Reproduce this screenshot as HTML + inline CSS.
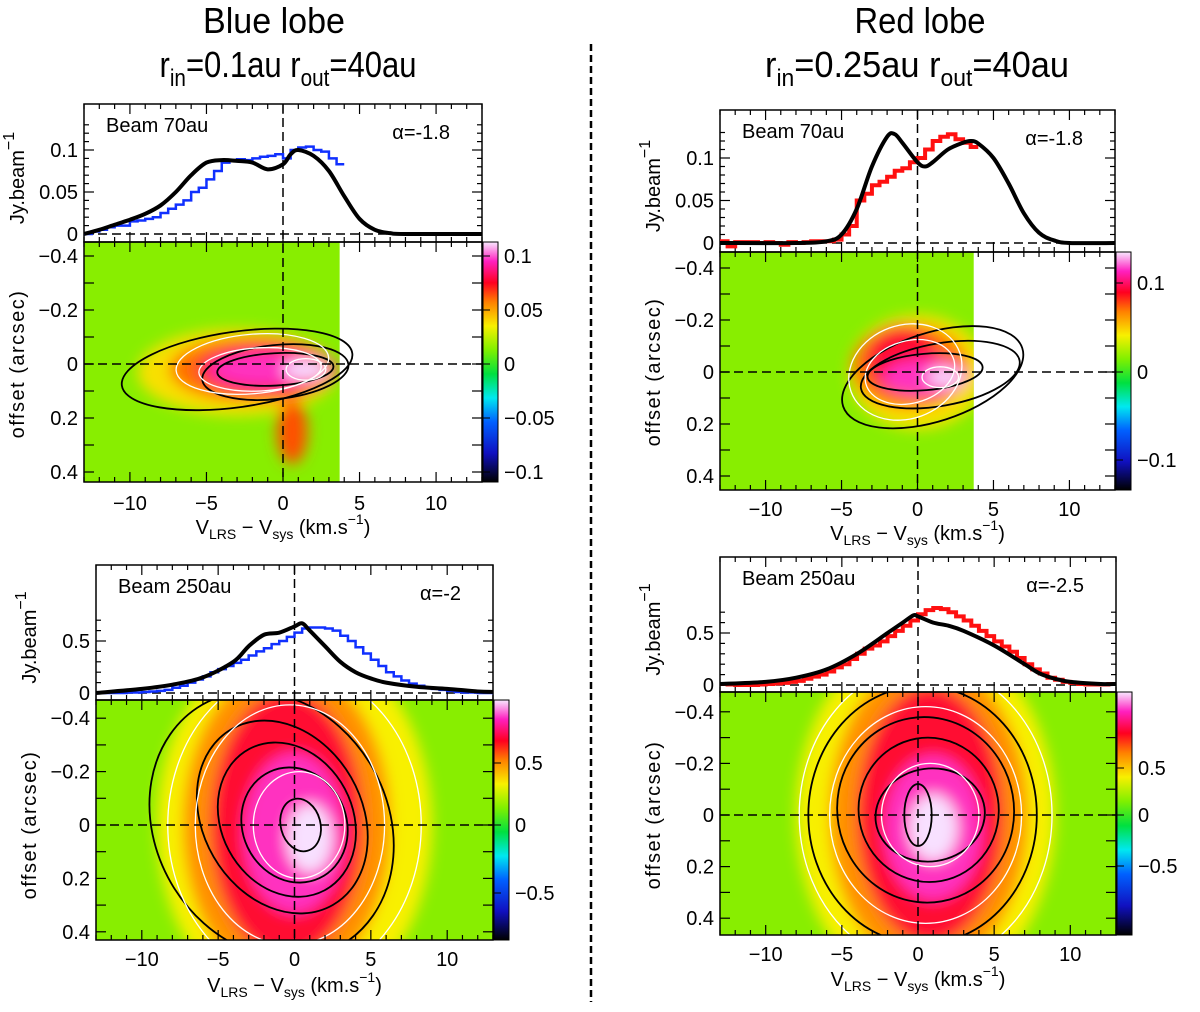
<!DOCTYPE html>
<html><head><meta charset="utf-8">
<style>
html,body{margin:0;padding:0;background:#fff;}
svg{display:block;font-family:"Liberation Sans",sans-serif;}
.t{font-size:20px;fill:#000;}
.ttl{font-family:"Liberation Sans",sans-serif;font-size:36px;fill:#000;}
</style></head>
<body>
<svg id="fig" width="1200" height="1012" viewBox="0 0 1200 1012" xmlns="http://www.w3.org/2000/svg">
<defs>
<linearGradient id="cbar" x1="0" y1="1" x2="0" y2="0">
<stop offset="0" stop-color="#000000"/><stop offset="0.12" stop-color="#1010c0"/><stop offset="0.25" stop-color="#0060ff"/>
<stop offset="0.35" stop-color="#00e8f0"/><stop offset="0.45" stop-color="#00e040"/><stop offset="0.55" stop-color="#80f000"/>
<stop offset="0.65" stop-color="#f8f000"/><stop offset="0.75" stop-color="#ff8000"/><stop offset="0.83" stop-color="#ff0020"/>
<stop offset="0.92" stop-color="#ff20c0"/><stop offset="1" stop-color="#f8e8ff"/>
</linearGradient>
<filter id="blur" x="-30%" y="-30%" width="160%" height="160%"><feGaussianBlur stdDeviation="7"/></filter>
</defs>
<text class="ttl" x="274" y="33" text-anchor="middle" textLength="142" lengthAdjust="spacingAndGlyphs">Blue lobe</text>
<text class="ttl" x="288" y="77" text-anchor="middle" textLength="257" lengthAdjust="spacingAndGlyphs">r<tspan font-size="24" dy="9">in</tspan><tspan dy="-9">=0.1au r</tspan><tspan font-size="24" dy="9">out</tspan><tspan dy="-9">=40au</tspan></text>
<text class="ttl" x="920" y="33" text-anchor="middle" textLength="131" lengthAdjust="spacingAndGlyphs">Red lobe</text>
<text class="ttl" x="917" y="77" text-anchor="middle" textLength="304" lengthAdjust="spacingAndGlyphs">r<tspan font-size="24" dy="9">in</tspan><tspan dy="-9">=0.25au r</tspan><tspan font-size="24" dy="9">out</tspan><tspan dy="-9">=40au</tspan></text>
<line x1="591" y1="44" x2="591" y2="1002" stroke="#000" stroke-width="2.5" stroke-dasharray="7,4"/>
</svg>
<script>
// ---- data ----
const tlModelV=[-13,-12,-11,-10,-9,-8,-7,-6,-5,-4,-3,-2,-1,0,0.5,1,2,3,4,5,6,7,8,13];
const tlModelY=[0,0.005,0.011,0.017,0.024,0.034,0.05,0.07,0.085,0.088,0.087,0.085,0.077,0.083,0.095,0.1,0.093,0.075,0.045,0.018,0.005,0.001,0,0];
const tlObsStart=-13, tlObsStep=0.5;
const tlObsY=[0,0.003,0.005,0.008,0.01,0.01,0.015,0.016,0.018,0.02,0.025,0.03,0.035,0.04,0.05,0.055,0.065,0.075,0.085,0.088,0.089,0.088,0.09,0.092,0.093,0.095,0.09,0.1,0.103,0.104,0.1,0.098,0.09,0.083];
const trModelV=[-13,-8,-6,-5,-4,-3,-2,-1.5,-1,0,0.5,1,2,3,3.5,4,5,6,7,8,9,10,13];
const trModelY=[0,0,0.002,0.01,0.04,0.09,0.125,0.128,0.118,0.095,0.09,0.095,0.11,0.118,0.12,0.117,0.1,0.07,0.035,0.012,0.003,0,0];
const trObsStart=-13, trObsStep=0.5;
const trObsY=[0.002,-0.004,0.001,0.001,0.001,0,0.001,0,-0.002,0.001,0,0.001,0.002,0.002,0.002,0.004,0.01,0.02,0.05,0.058,0.068,0.072,0.078,0.085,0.088,0.095,0.1,0.11,0.12,0.125,0.128,0.122,0.118,0.113];
const blModelV=[-13,-10,-8,-6,-4,-3,-2,-1,0,0.5,1,2,3,4,5,6,8,10,12,13];
const blModelY=[0.0,0.04,0.08,0.15,0.3,0.45,0.56,0.58,0.64,0.67,0.6,0.45,0.3,0.2,0.14,0.1,0.06,0.04,0.015,0.01];
const blObsStart=-13, blObsStep=0.5;
const blObsY=[0,0,0,0,0.005,0.005,0.01,0.015,0.02,0.03,0.05,0.07,0.1,0.13,0.16,0.2,0.23,0.26,0.29,0.32,0.36,0.4,0.43,0.47,0.5,0.54,0.58,0.62,0.63,0.63,0.62,0.6,0.55,0.5,0.44,0.38,0.32,0.26,0.2,0.16,0.12,0.09,0.07,0.05,0.04,0.03,0.02,0.01,0.005,0.005,0,0];
const brModelV=[-13,-10,-8,-6,-4,-2,-1,-0.3,0,1,2,3,5,7,8,9,10,12,13];
const brModelY=[0.01,0.03,0.07,0.15,0.3,0.5,0.6,0.67,0.66,0.6,0.57,0.52,0.38,0.2,0.11,0.06,0.03,0.01,0.01];
const brObsStart=-13, brObsStep=0.5;
const brObsY=[0.01,0.005,0,0,0,0.005,0.01,0.015,0.02,0.03,0.04,0.06,0.08,0.1,0.13,0.17,0.2,0.25,0.3,0.35,0.38,0.42,0.47,0.52,0.57,0.62,0.68,0.72,0.74,0.73,0.7,0.66,0.62,0.57,0.52,0.47,0.42,0.37,0.32,0.26,0.2,0.15,0.11,0.07,0.05,0.03,0.02,0.01,0.005,0.005,0.005,0.01];
const xTicks=[-10,-5,0,5,10];
// heat blobs: [v, offset, rx(km/s), ry(arcsec), color]
const tlBlobs=[[-3,0.03,6.5,0.16,'#f8e000'],[-2,0.02,5.4,0.12,'#ff7000'],[-1,0.02,4.6,0.09,'#ff1040'],[-1,0.02,3.8,0.06,'#ff30c0'],[1.5,0.02,1.5,0.04,'#f8d8ff'],[0.6,0.25,1,0.12,'#ff5000']];
const trBlobs=[[0,0.0,4.5,0.22,'#f8e000'],[-0.5,-0.02,3.8,0.16,'#ff7000'],[-1,-0.05,2.3,0.13,'#ff1030'],[0.5,0.02,2.8,0.07,'#ff30c0'],[1.8,0.02,1.2,0.035,'#f8d8ff']];
const blBlobs=[[0,0,9,0.7,'#f8f000'],[-0.5,0,6.8,0.6,'#ff9000'],[-0.5,0,5,0.5,'#ff1030'],[0,0.03,3.3,0.3,'#ff30c0'],[1,0.05,1.5,0.13,'#f8e0ff']];
const brBlobs=[[0.5,0,8.5,0.7,'#f8f000'],[0.7,0,6.5,0.6,'#ff9000'],[0.8,0,4.8,0.5,'#ff1030'],[1,0.05,3.2,0.28,'#ff30c0'],[1,0.05,1.6,0.13,'#f8e0ff']];
// contours: [v, offset, rx, ry, rotationDeg, color]
const tlCont=[[-3,0.02,7.6,0.14,-8,'#000'],[-0.5,0.03,4.8,0.1,-6,'#000'],[-0.5,0.02,3.8,0.06,-3,'#000'],[-2,0.0,5,0.11,-5,'#fff'],[-1.5,0.02,4,0.08,-3,'#fff'],[1.5,0.02,1.3,0.04,0,'#fff']];
const trCont=[[1,0.02,6.2,0.17,-18,'#000'],[1.5,0.01,5.3,0.12,-10,'#000'],[0.5,0.0,3.8,0.07,-5,'#000'],[-0.8,0.0,3.8,0.18,-20,'#fff'],[-0.5,0.0,3,0.12,-15,'#fff'],[1.5,0.02,1.2,0.04,0,'#fff']];
const blCont=[[-1.5,0,7.6,0.52,-30,'#000'],[-0.8,-0.03,5.2,0.38,-30,'#000'],[-0.5,-0.02,4.3,0.3,-28,'#000'],[0,0,3.4,0.22,-25,'#000'],[0.4,0.0,1.3,0.1,-15,'#000'],[0,0,8.3,0.58,0,'#fff'],[-0.3,0,6.2,0.45,0,'#fff'],[0.3,0,3,0.2,0,'#fff']];
const brCont=[[0.3,0,7.5,0.5,0,'#000'],[0.5,-0.02,5.8,0.36,-10,'#000'],[0.7,-0.02,4.6,0.28,-10,'#000'],[0.8,0,3.6,0.18,-8,'#000'],[0,0,0.9,0.12,0,'#000'],[0.5,0,8.3,0.58,0,'#fff'],[0.5,0,6.3,0.42,0,'#fff'],[0.8,0,3.2,0.2,0,'#fff']];

const NS='http://www.w3.org/2000/svg';
const fig=document.getElementById('fig');
function mk(tag,attrs,parent){const e=document.createElementNS(NS,tag);for(const k in attrs)e.setAttribute(k,attrs[k]);(parent||fig).appendChild(e);return e;}

function panel(c){
  const g=mk('g',{});
  
  
  const sx=v=>c.x0+(v+13)/26*(c.x1-c.x0);
  const sy=y=>c.zeroY-y*c.sScale;
  const my=o=>c.mZero+o*c.mScale;
  const clipId=c.name+'-clip';
  const cp=mk('clipPath',{id:clipId},g);
  mk('rect',{x:c.x0,y:c.sy1,width:(c.hx?sx(c.hx):c.x1)-c.x0,height:c.my1-c.sy1},cp);
  const hm=mk('g',{'clip-path':'url(#'+clipId+')'},g);
  
  
  mk('rect',{x:c.x0,y:c.sy1,width:c.x1-c.x0,height:c.my1-c.sy1,fill:'#88ee00'},hm);
  const bl=mk('g',{filter:'url(#blur)'},hm);
  c.blobs.forEach(b=>{
    const el=mk('ellipse',{cx:sx(b[0]),cy:my(b[1]),rx:b[2]/26*(c.x1-c.x0),ry:b[3]*c.mScale,fill:b[4]},bl);
    
    
  });
  const cclip=c.name+'-cclip';
  const cp2=mk('clipPath',{id:cclip},g);
  mk('rect',{x:c.x0,y:c.sy1,width:c.x1-c.x0,height:c.my1-c.sy1},cp2);
  const cg=mk('g',{'clip-path':'url(#'+cclip+')'},g);
  c.cont.forEach(k=>{
    const cx=sx(k[0]),cy=my(k[1]);
    const el=mk('ellipse',{cx:cx,cy:cy,rx:k[2]/26*(c.x1-c.x0),ry:k[3]*c.mScale,fill:'none',stroke:k[5],'stroke-width':k[5]=='#000'?1.8:1.3,transform:`rotate(${k[4]} ${cx} ${cy})`},cg);
    
    
  });
  mk('rect',{x:c.x0,y:c.sy0,width:c.x1-c.x0,height:c.sy1-c.sy0,fill:'none',stroke:'#000','stroke-width':1.5},g);
  mk('rect',{x:c.x0,y:c.sy1,width:c.x1-c.x0,height:c.my1-c.sy1,fill:'none',stroke:'#000','stroke-width':1.5},g);
  for(let v=-13;v<=13;v++){
    const x=sx(v),L=(v%5==0)?10:5;
    [[c.sy0,1],[c.sy1,-1],[c.sy1,1],[c.my1,-1]].forEach(p=>mk('line',{x1:x,x2:x,y1:p[0],y2:p[0]+p[1]*L,stroke:'#000','stroke-width':1.2},g));
  }
  xTicks.forEach(v=>{const t=mk('text',{x:sx(v),y:c.tickY,'text-anchor':'middle',class:'t'},g);t.textContent=(v<0?'\u2212':'')+Math.abs(v);
    });
  for(let y=0;y<=c.sMax+1e-9;y+=c.sMinor){
    const Y=sy(y),maj=Math.abs(y/c.sMajor-Math.round(y/c.sMajor))<1e-6,L=maj?10:5;
    if(Y<c.sy0)continue;
    mk('line',{x1:c.x0,x2:c.x0+L,y1:Y,y2:Y,stroke:'#000','stroke-width':1.2},g);
    mk('line',{x1:c.x1,x2:c.x1-L,y1:Y,y2:Y,stroke:'#000','stroke-width':1.2},g);
  }
  c.sLabels.forEach(y=>{const t=mk('text',{x:c.x0-6,y:sy(y)+7,'text-anchor':'end',class:'t'},g);t.textContent=y;
    });
  for(let o=-0.4;o<=0.41;o+=0.1){
    const Y=my(o);
    mk('line',{x1:c.x0,x2:c.x0+10,y1:Y,y2:Y,stroke:'#000','stroke-width':1.2},g);
    mk('line',{x1:c.x1,x2:c.x1-10,y1:Y,y2:Y,stroke:'#000','stroke-width':1.2},g);
  }
  [-0.4,-0.2,0,0.2,0.4].forEach(o=>{const t=mk('text',{x:c.x0-6,y:my(o)+7,'text-anchor':'end',class:'t'},g);
    t.textContent=(o<0?'\u2212':'')+Math.abs(o);
    });
  mk('line',{x1:c.x0,x2:c.x1,y1:sy(0),y2:sy(0),stroke:'#000','stroke-width':1.5,'stroke-dasharray':'9,5'},g);
  mk('line',{x1:c.x0,x2:c.x1,y1:my(0),y2:my(0),stroke:'#000','stroke-width':1.5,'stroke-dasharray':'9,5'},g);
  mk('line',{x1:sx(0),x2:sx(0),y1:c.sy0,y2:c.my1,stroke:'#000','stroke-width':1.5,'stroke-dasharray':'9,5'},g);
  let d='';c.obsY.forEach((y,i)=>{const v0=c.obsStart+i*c.obsStep;d+=(i?'L':'M')+sx(v0)+','+sy(y)+'L'+sx(v0+c.obsStep)+','+sy(y);});
  const ob=mk('path',{d:d,fill:'none',stroke:c.obsColor,'stroke-width':c.obsW},g);
  
  
  const pts=c.mV.map((v,i)=>[sx(v),sy(c.mY[i])]);
  let m='M'+pts[0].join(',');
  for(let i=0;i<pts.length-1;i++){const p0=pts[Math.max(0,i-1)],p1=pts[i],p2=pts[i+1],p3=pts[Math.min(pts.length-1,i+2)];
    m+=`C${p1[0]+(p2[0]-p0[0])/6},${p1[1]+(p2[1]-p0[1])/6} ${p2[0]-(p3[0]-p1[0])/6},${p2[1]-(p3[1]-p1[1])/6} ${p2[0]},${p2[1]}`;}
  const mo=mk('path',{d:m,fill:'none',stroke:'#000','stroke-width':4,'stroke-linejoin':'round'},g);
  
  
  let t=mk('text',{x:c.x0+22,y:c.sy0+28,class:'t','font-size':'19'},g);t.textContent=c.beam;
  
  t=mk('text',{x:c.x1-32,y:c.sy0+35,class:'t','text-anchor':'end','font-size':'19'},g);t.textContent=c.alpha;
  
  const cb=mk('rect',{x:c.x1+1,y:c.sy1,width:15,height:c.my1-c.sy1,fill:'url(#cbar)',stroke:'#000','stroke-width':1},g);
  
  c.cb.forEach(l=>{mk('line',{x1:c.x1+1,x2:c.x1+8,y1:l[1],y2:l[1],stroke:'#000'},g);
    const tt=mk('text',{x:c.x1+22,y:l[1]+7,class:'t'},g);tt.textContent=l[0];
    });
  t=mk('text',{class:'t','font-size':'22',transform:`translate(${c.x0-60},${(c.sy0+c.sy1)/2+5}) rotate(-90)`,'text-anchor':'middle'},g);
  t.innerHTML='Jy.beam<tspan dy="-10" font-size="16">\u22121</tspan>';
  
  t=mk('text',{class:'t','font-size':'22','letter-spacing':'1.5',transform:`translate(${c.x0-60},${c.mZero}) rotate(-90)`,'text-anchor':'middle'},g);
  t.textContent='offset  (arcsec)';
  
  t=mk('text',{class:'t','font-size':'22',x:(c.x0+c.x1)/2,y:c.titleY,'text-anchor':'middle'},g);
  t.innerHTML='V<tspan font-size="14" dy="5">LRS</tspan><tspan dy="-5"> \u2212 V</tspan><tspan font-size="14" dy="5">sys</tspan><tspan dy="-5">  (km.s</tspan><tspan font-size="14" dy="-10">\u22121</tspan><tspan dy="10">)</tspan>';
  
}

panel({name:'blue-lobe-70au',x0:84,x1:482,sy0:104,sy1:242,my1:482,zeroY:234,sScale:840,sMax:0.13,sMinor:0.01,sMajor:0.05,sLabels:[0,0.05,0.1],
  mZero:364,mScale:270,hx:3.7,blobs:tlBlobs,cont:tlCont,obsY:tlObsY,obsStart:tlObsStart,obsStep:tlObsStep,obsColor:'#1030ff',obsW:2.5,
  mV:tlModelV,mY:tlModelY,beam:'Beam 70au',alpha:'\u03b1=-1.8',cb:[['0.1',256],['0.05',310],['0',364],['\u22120.05',418],['\u22120.1',472]],tickY:510,titleY:534});
panel({name:'red-lobe-70au',x0:720,x1:1115,sy0:110,sy1:252,my1:490,zeroY:243,sScale:850,sMax:0.13,sMinor:0.01,sMajor:0.05,sLabels:[0,0.05,0.1],
  mZero:372,mScale:260,hx:3.7,blobs:trBlobs,cont:trCont,obsY:trObsY,obsStart:trObsStart,obsStep:trObsStep,obsColor:'#ff1010',obsW:4,
  mV:trModelV,mY:trModelY,beam:'Beam 70au',alpha:'\u03b1=-1.8',cb:[['0.1',283],['0',372],['\u22120.1',460]],tickY:516,titleY:540});
panel({name:'blue-lobe-250au',x0:96,x1:493,sy0:565,sy1:700,my1:940,zeroY:693,sScale:104,sMax:0.7,sMinor:0.1,sMajor:0.5,sLabels:[0,0.5],
  mZero:825,mScale:267,blobs:blBlobs,cont:blCont,obsY:blObsY,obsStart:blObsStart,obsStep:blObsStep,obsColor:'#1030ff',obsW:2.5,
  mV:blModelV,mY:blModelY,beam:'Beam 250au',alpha:'\u03b1=-2',cb:[['0.5',763],['0',825],['\u22120.5',893]],tickY:966,titleY:992});
panel({name:'red-lobe-250au',x0:720,x1:1116,sy0:557,sy1:692,my1:935,zeroY:685,sScale:104,sMax:0.75,sMinor:0.1,sMajor:0.5,sLabels:[0,0.5],
  mZero:815,mScale:258,blobs:brBlobs,cont:brCont,obsY:brObsY,obsStart:brObsStart,obsStep:brObsStep,obsColor:'#ff1010',obsW:4,
  mV:brModelV,mY:brModelY,beam:'Beam 250au',alpha:'\u03b1=-2.5',cb:[['0.5',768],['0',815],['\u22120.5',866]],tickY:961,titleY:986});
</script>
</body></html>
